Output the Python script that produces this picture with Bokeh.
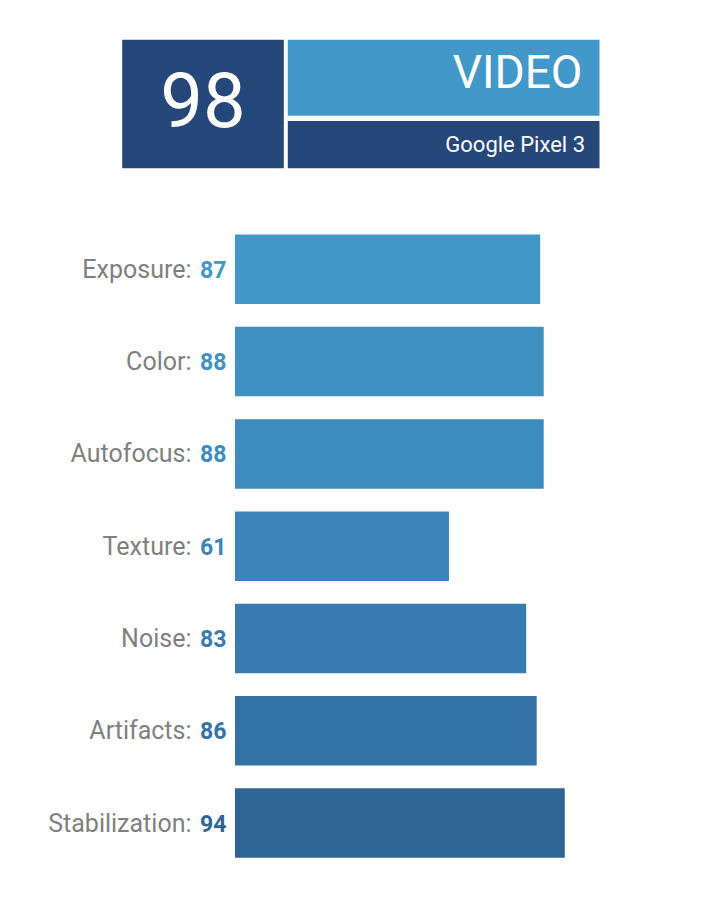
from bokeh.plotting import figure
from bokeh.models import Range1d
from bokeh.core.properties import value
from bokeh.embed import file_html
from bokeh.resources import INLINE

# ---- data ----
categories = ["Exposure", "Color", "Autofocus", "Texture", "Noise", "Artifacts", "Stabilization"]
scores = [87, 88, 88, 61, 83, 86, 94]
bar_colors = ["#4197C7", "#3E91C2", "#3C8CBE", "#3A84B8", "#377BAF", "#3472A6", "#2F6496"]
overall_score = "98"
section_title = "VIDEO"
device_name = "Google Pixel 3"

# ---- styling / layout ----
W, H = 704, 883
FONT = "Roboto"
DARK = "#254779"
LIGHT = "#4298C8"
GRAY = "#7F7F7F"

# score axis: 0 at x 234.5, 3.508 px per point
x0_px, px_per_pt = 234.5, 3.508
p = figure(width=W, height=H, output_backend="svg", toolbar_location=None,
           x_range=Range1d(-x0_px / px_per_pt, (W - x0_px) / px_per_pt),
           y_range=Range1d(H, 0), min_border=0)
p.extra_x_ranges = {"px": Range1d(0, W)}
p.axis.visible = False
p.xgrid.visible = False
p.ygrid.visible = False
p.outline_line_color = None
p.background_fill_color = "white"
p.border_fill_color = "white"

# header boxes
p.quad(left=[121.7, 287.3, 287.3], right=[283.3, 599, 599],
       top=[39.3, 39.3, 120.5], bottom=[167.7, 115.3, 167.7],
       fill_color=[DARK, LIGHT, DARK], line_color=None, x_range_name="px")
p.text(x=[202.5], y=[99.2], text=[overall_score], text_font=value(FONT),
       text_font_size="76px", text_color="white", text_align="center",
       text_baseline="middle", x_range_name="px")
p.text(x=[582], y=[71.7], text=[section_title], text_font=value(FONT),
       text_font_size="46px", text_color="white", text_align="right",
       text_baseline="middle", x_range_name="px")
p.text(x=[584.5], y=[144.2], text=[device_name], text_font=value(FONT),
       text_font_size="22px", text_color="white", text_align="right",
       text_baseline="middle", x_range_name="px")

# bars
centers = [268.8 + i * 92.3 for i in range(len(categories))]
p.hbar(y=centers, left=0, right=scores, height=69.5, fill_color=bar_colors,
       line_color=None)

# labels
p.text(x=[191] * len(categories), y=centers,
       text=[c + ":" for c in categories], text_font=value(FONT),
       text_font_size="25px", text_color=GRAY, text_align="right",
       text_baseline="middle", x_range_name="px")
p.text(x=[226] * len(categories), y=centers,
       text=[str(s) for s in scores], text_font=value(FONT),
       text_font_size="23px", text_font_style="bold", text_color=bar_colors,
       text_align="right", text_baseline="middle", x_range_name="px")

open("out.html", "w").write(file_html(p, INLINE))
